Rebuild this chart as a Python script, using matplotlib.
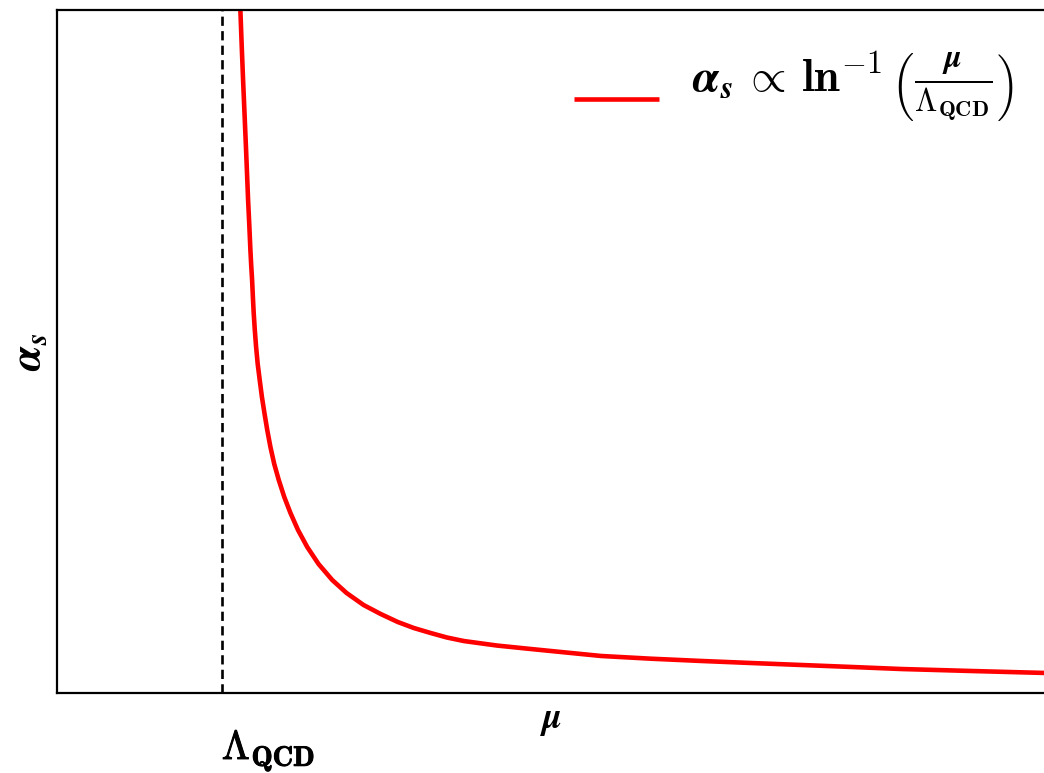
import matplotlib
matplotlib.use("Agg")
import numpy as np
import matplotlib.pyplot as plt
import matplotlib.patheffects as pe
from matplotlib.legend_handler import HandlerLine2D
from matplotlib.lines import Line2D

plt.rcParams['mathtext.fontset'] = 'cm'

# scale mu / Lambda_QCD (Lambda_QCD = 1)
lambda_qcd = 1.0
mu = [1.1027, 1.1125, 1.1204, 1.1289, 1.1380, 1.1471, 1.1532, 1.1593, 1.1666, 1.1733,
      1.1781, 1.1836, 1.1884, 1.1933, 1.2000, 1.2079, 1.2176, 1.2298, 1.2432, 1.2584,
      1.2754, 1.2948, 1.3179, 1.3453, 1.3787, 1.4164, 1.4620, 1.5179, 1.5866, 1.6699,
      1.7568, 1.8602, 1.9635, 2.0669, 2.1641, 2.2675, 2.3647, 2.4681, 2.6687, 2.8754,
      3.0881, 3.3009, 3.6049, 3.9088, 4.2128, 4.5167, 4.8207, 5.1246, 5.5502, 6.0]
# running coupling (arbitrary units)
alpha_s = [10.586, 10.0, 9.488, 8.975, 8.463, 7.950, 7.584, 7.218, 6.852, 6.486,
           6.266, 6.047, 5.798, 5.564, 5.315, 5.066, 4.817, 4.583, 4.334, 4.100,
           3.851, 3.602, 3.353, 3.119, 2.870, 2.635, 2.387, 2.138, 1.889, 1.654,
           1.464, 1.288, 1.157, 1.040, 0.952, 0.878, 0.813, 0.761, 0.695, 0.644,
           0.593, 0.542, 0.502, 0.469, 0.439, 0.410, 0.381, 0.351, 0.322, 0.293]


class LoweredLineHandler(HandlerLine2D):
    def __init__(self, shift_frac=0.0, **kw):
        super().__init__(**kw)
        self.shift_frac = shift_frac

    def create_artists(self, legend, orig_handle, xdescent, ydescent, width,
                       height, fontsize, trans):
        arts = super().create_artists(legend, orig_handle, xdescent, ydescent,
                                      width, height, fontsize, trans)
        for a in arts:
            a.set_ydata(np.asarray(a.get_ydata(), dtype=float) - self.shift_frac * fontsize)
        return arts


W, H = 1044, 773
fig = plt.figure(figsize=(W / 100, H / 100), dpi=100)
ax = fig.add_axes([57 / W, (H - 693) / H, (1046 - 57) / W, (693 - 10) / H])

legend_label = (r'$\boldsymbol{\alpha}_{\boldsymbol{s}}\,\boldsymbol{\propto}\,'
                r'\mathbf{ln}^{\mathbf{-1}}\,\left(\frac{\boldsymbol{\mu}}'
                r'{\boldsymbol{\Lambda}_{\mathbf{QCD}}}\right)$')
ax.plot(mu, alpha_s, color='red', lw=3.3, solid_capstyle='butt', label=legend_label)
ax.axvline(lambda_qcd, color='black', ls=(0, (3.5, 2)), lw=1.9)

ax.set_xlim(0, 6.0)
ax.set_ylim(0, 10)
ax.set_yticks([])
ax.set_xticks([lambda_qcd])
ax.set_xticklabels([r'$\Lambda_{\mathbf{QCD}}$'], fontsize=29, ha='left')
ax.tick_params(axis='x', length=0, pad=25)
for lbl in ax.get_xticklabels():
    lbl.set_path_effects([pe.withStroke(linewidth=0.7, foreground='black')])
for s in ax.spines.values():
    s.set_linewidth(1.6)

ax.set_xlabel(r'$\boldsymbol{\mu}$', fontsize=26)
ax.xaxis.set_label_coords(0.5, -0.016)
ax.set_ylabel(r'$\boldsymbol{\alpha}_{\boldsymbol{s}}$', fontsize=31)
ax.yaxis.set_label_coords(-0.008, 0.5)

leg = ax.legend(loc='upper right', frameon=False, fontsize=33, handlelength=1.86,
                handletextpad=0.72, borderaxespad=0, bbox_to_anchor=(0.9855, 0.968),
                handler_map={Line2D: LoweredLineHandler(shift_frac=0.5)})

fig.savefig('out.png', dpi=100)
